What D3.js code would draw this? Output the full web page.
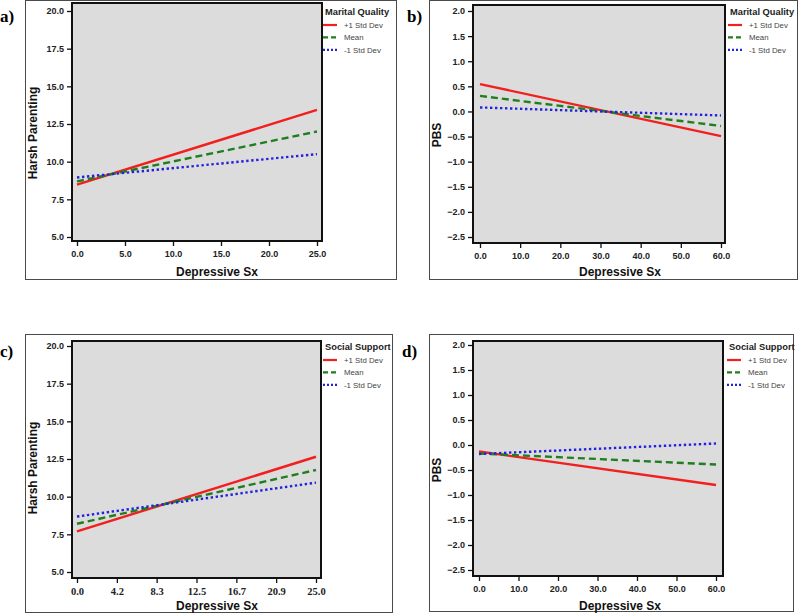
<!DOCTYPE html>
<html>
<head>
<meta charset="utf-8">
<script src="https://cdn.jsdelivr.net/npm/d3@7"></script>
<style>
  body { margin: 0; background: #fff; }
  svg { display: block; }
</style>
</head>
<body>
<svg id="chart" width="800" height="614"></svg>
<script>
// ---- data ----
const panelLabels = ['a)', 'b)', 'c)', 'd)'];
const legendTitles = ['Marital Quality', 'Marital Quality', 'Social Support', 'Social Support'];
const seriesNames = ['+1 Std Dev', 'Mean', '-1 Std Dev'];
const yLabels = ['Harsh Parenting', 'PBS', 'Harsh Parenting', 'PBS'];
const xLabel = 'Depressive Sx';

const xDomains = [[0, 25], [0, 60], [0, 25], [0, 60]];
const yDomains = [[5, 20], [-2.5, 2], [5, 20], [-2.5, 2]];

const harshTicks = [5, 7.5, 10, 12.5, 15, 17.5, 20];
const pbsTicks = [-2.5, -2, -1.5, -1, -0.5, 0, 0.5, 1, 1.5, 2];
const xTicksA = [0, 5, 10, 15, 20, 25];
const xTicksB = [0, 10, 20, 30, 40, 50, 60];
const xTicksC = [0, 4.17, 8.33, 12.5, 16.67, 20.83, 25];
const xTickLabelsC = ['0.0', '4.2', '8.3', '12.5', '16.7', '20.9', '25.0'];

// each line: [y at x min, y at x max], order +1 SD, Mean, -1 SD
const linesA = [[8.47, 13.44], [8.69, 12.0], [8.95, 10.5]];
const linesB = [[0.545, -0.49], [0.31, -0.29], [0.08, -0.08]];
const linesC = [[7.69, 12.65], [8.2, 11.77], [8.68, 10.93]];
const linesD = [[-0.13, -0.8], [-0.17, -0.39], [-0.18, 0.03]];

// ---- styles ----
const seriesStyle = [
  {color: '#f21f1f', dash: null},
  {color: '#1f7f1f', dash: '7,4'},
  {color: '#2222dd', dash: '2.4,2.6'}
];
const sans = 'Liberation Sans, Arial, sans-serif';
const serif = 'Liberation Serif, Times New Roman, serif';

class LinePanel {
  constructor(_config, _lines) {
    this.config = _config;
    this.lines = _lines;
    this.initVis();
  }

  initVis() {
    let vis = this;
    const c = vis.config;
    vis.g = d3.select('#chart').append('g');

    // outer frame
    vis.g.append('rect')
        .attr('x', c.frame[0] + 0.5).attr('y', c.frame[1] + 0.5)
        .attr('width', c.frame[2] - c.frame[0]).attr('height', c.frame[3] - c.frame[1])
        .attr('fill', 'none').attr('stroke', '#4a4a4a').attr('stroke-width', 1);

    // panel letter
    vis.g.append('text')
        .attr('x', c.letterPos[0]).attr('y', c.letterPos[1])
        .attr('font-family', serif)
        .attr('font-weight', 'bold').attr('font-size', 17)
        .text(c.letter);

    vis.x = d3.scaleLinear().domain(c.xDomain).range(c.xRange);
    vis.y = d3.scaleLinear().domain(c.yDomain).range(c.yRange);

    // plot area
    const p = c.plot;
    vis.g.append('rect')
        .attr('x', p[0]).attr('y', p[1])
        .attr('width', p[2] - p[0]).attr('height', p[3] - p[1])
        .attr('fill', '#dcdcdc');

    // axes
    const xAxis = d3.axisBottom(vis.x)
        .tickValues(c.xTicks)
        .tickSize(5).tickSizeOuter(0)
        .tickFormat((d, i) => c.xTickLabels ? c.xTickLabels[i] : d3.format('.1f')(d));
    const yAxis = d3.axisLeft(vis.y)
        .tickValues(c.yTicks)
        .tickSize(5).tickSizeOuter(0)
        .tickFormat(d3.format('.1f'));

    const gx = vis.g.append('g')
        .attr('transform', `translate(0,${p[3]})`)
        .call(xAxis);
    const gy = vis.g.append('g')
        .attr('transform', `translate(${p[0]},0)`)
        .call(yAxis);
    [gx, gy].forEach(a => {
      a.select('.domain').remove();
      a.selectAll('.tick line').attr('stroke', '#111').attr('stroke-width', 1.3);
      a.selectAll('.tick text')
          .attr('fill', '#222')
          .attr('font-family', sans)
          .attr('font-weight', 'bold').attr('font-size', 9);
    });
    gx.selectAll('.tick text').attr('y', 8).attr('dy', '0.9em');
    gy.selectAll('.tick text').attr('x', -8);
    if (c.serifX) {
      gx.selectAll('.tick text')
          .attr('font-family', serif)
          .attr('font-size', 10.5);
    }

    // axis titles
    vis.g.append('text')
        .attr('x', c.xTitlePos[0]).attr('y', c.xTitlePos[1])
        .attr('text-anchor', 'middle')
        .attr('font-family', sans)
        .attr('font-weight', 'bold').attr('font-size', 12).attr('fill', '#111')
        .text(xLabel);
    vis.g.append('text')
        .attr('transform', `translate(${c.yTitlePos[0]},${c.yTitlePos[1]}) rotate(-90)`)
        .attr('text-anchor', 'middle')
        .attr('font-family', sans)
        .attr('font-weight', 'bold').attr('font-size', 12).attr('fill', '#111')
        .text(c.yLabel);

    vis.renderVis();

    // plot border on top of the lines
    vis.g.append('rect')
        .attr('x', p[0]).attr('y', p[1])
        .attr('width', p[2] - p[0]).attr('height', p[3] - p[1])
        .attr('fill', 'none').attr('stroke', '#111').attr('stroke-width', 2);

    vis.renderLegend();
  }

  renderVis() {
    let vis = this;
    const xd = vis.config.xDomain;
    const line = d3.line().x(d => vis.x(d[0])).y(d => vis.y(d[1]));

    vis.g.selectAll('.series')
        .data(vis.lines)
        .join('path')
        .attr('class', 'series')
        .attr('d', d => line([[xd[0], d[0]], [xd[1], d[1]]]))
        .attr('fill', 'none')
        .attr('stroke', (d, i) => seriesStyle[i].color)
        .attr('stroke-width', 2.4)
        .attr('stroke-dasharray', (d, i) => seriesStyle[i].dash);
  }

  renderLegend() {
    let vis = this;
    const c = vis.config;
    const lg = vis.g.append('g').attr('transform', `translate(${c.legendPos[0]},${c.legendPos[1]})`);
    lg.append('text')
        .attr('x', 2).attr('y', 0)
        .attr('font-family', sans)
        .attr('font-weight', 'bold').attr('font-size', 9.3).attr('fill', '#222')
        .text(c.legendTitle);
    const items = lg.selectAll('.item')
        .data(seriesNames)
        .join('g')
        .attr('class', 'item')
        .attr('transform', (d, i) => `translate(0,${13 + i * 12.4})`);
    items.append('line')
        .attr('x1', 0).attr('x2', 14).attr('y1', -3).attr('y2', -3)
        .attr('stroke', (d, i) => seriesStyle[i].color)
        .attr('stroke-width', 2.2)
        .attr('stroke-dasharray', (d, i) => i === 1 ? '5,3' : (i === 2 ? '2,2' : null));
    items.append('text')
        .attr('x', 21).attr('y', 0)
        .attr('font-family', sans)
        .attr('font-size', 7.8).attr('fill', '#444')
        .text(d => d);
  }
}

const panelLayout = [
  {frame: [25, 0, 396, 279], plot: [72, 3, 322, 241], xRange: [77, 317], yRange: [237, 11],
   letterPos: [0, 22], legendPos: [323, 15], xTitlePos: [217, 276], yTitlePos: [37, 133]},
  {frame: [429, 0, 797, 279], plot: [473, 5, 725, 243], xRange: [480, 721], yRange: [237, 11],
   letterPos: [407, 22], legendPos: [728, 15], xTitlePos: [620, 276], yTitlePos: [441, 135]},
  {frame: [25, 334, 392, 612], plot: [72, 341, 321, 578], xRange: [77, 316], yRange: [572, 346],
   letterPos: [0, 357], legendPos: [323, 350], xTitlePos: [217, 610], yTitlePos: [37, 468]},
  {frame: [429, 334, 793, 611], plot: [473, 341, 723, 576], xRange: [479, 716], yRange: [570, 345],
   letterPos: [402, 357], legendPos: [727, 350], xTitlePos: [620, 610], yTitlePos: [441, 470]}
];

const allLines = [linesA, linesB, linesC, linesD];
const allXTicks = [xTicksA, xTicksB, xTicksC, xTicksB];
const allYTicks = [harshTicks, pbsTicks, harshTicks, pbsTicks];

panelLayout.forEach((l, i) => {
  new LinePanel(Object.assign({}, l, {
    letter: panelLabels[i],
    legendTitle: legendTitles[i],
    yLabel: yLabels[i],
    xDomain: xDomains[i],
    yDomain: yDomains[i],
    xTicks: allXTicks[i],
    yTicks: allYTicks[i],
    xTickLabels: i === 2 ? xTickLabelsC : null,
    serifX: i === 2
  }), allLines[i]);
});
</script>
</body>
</html>
